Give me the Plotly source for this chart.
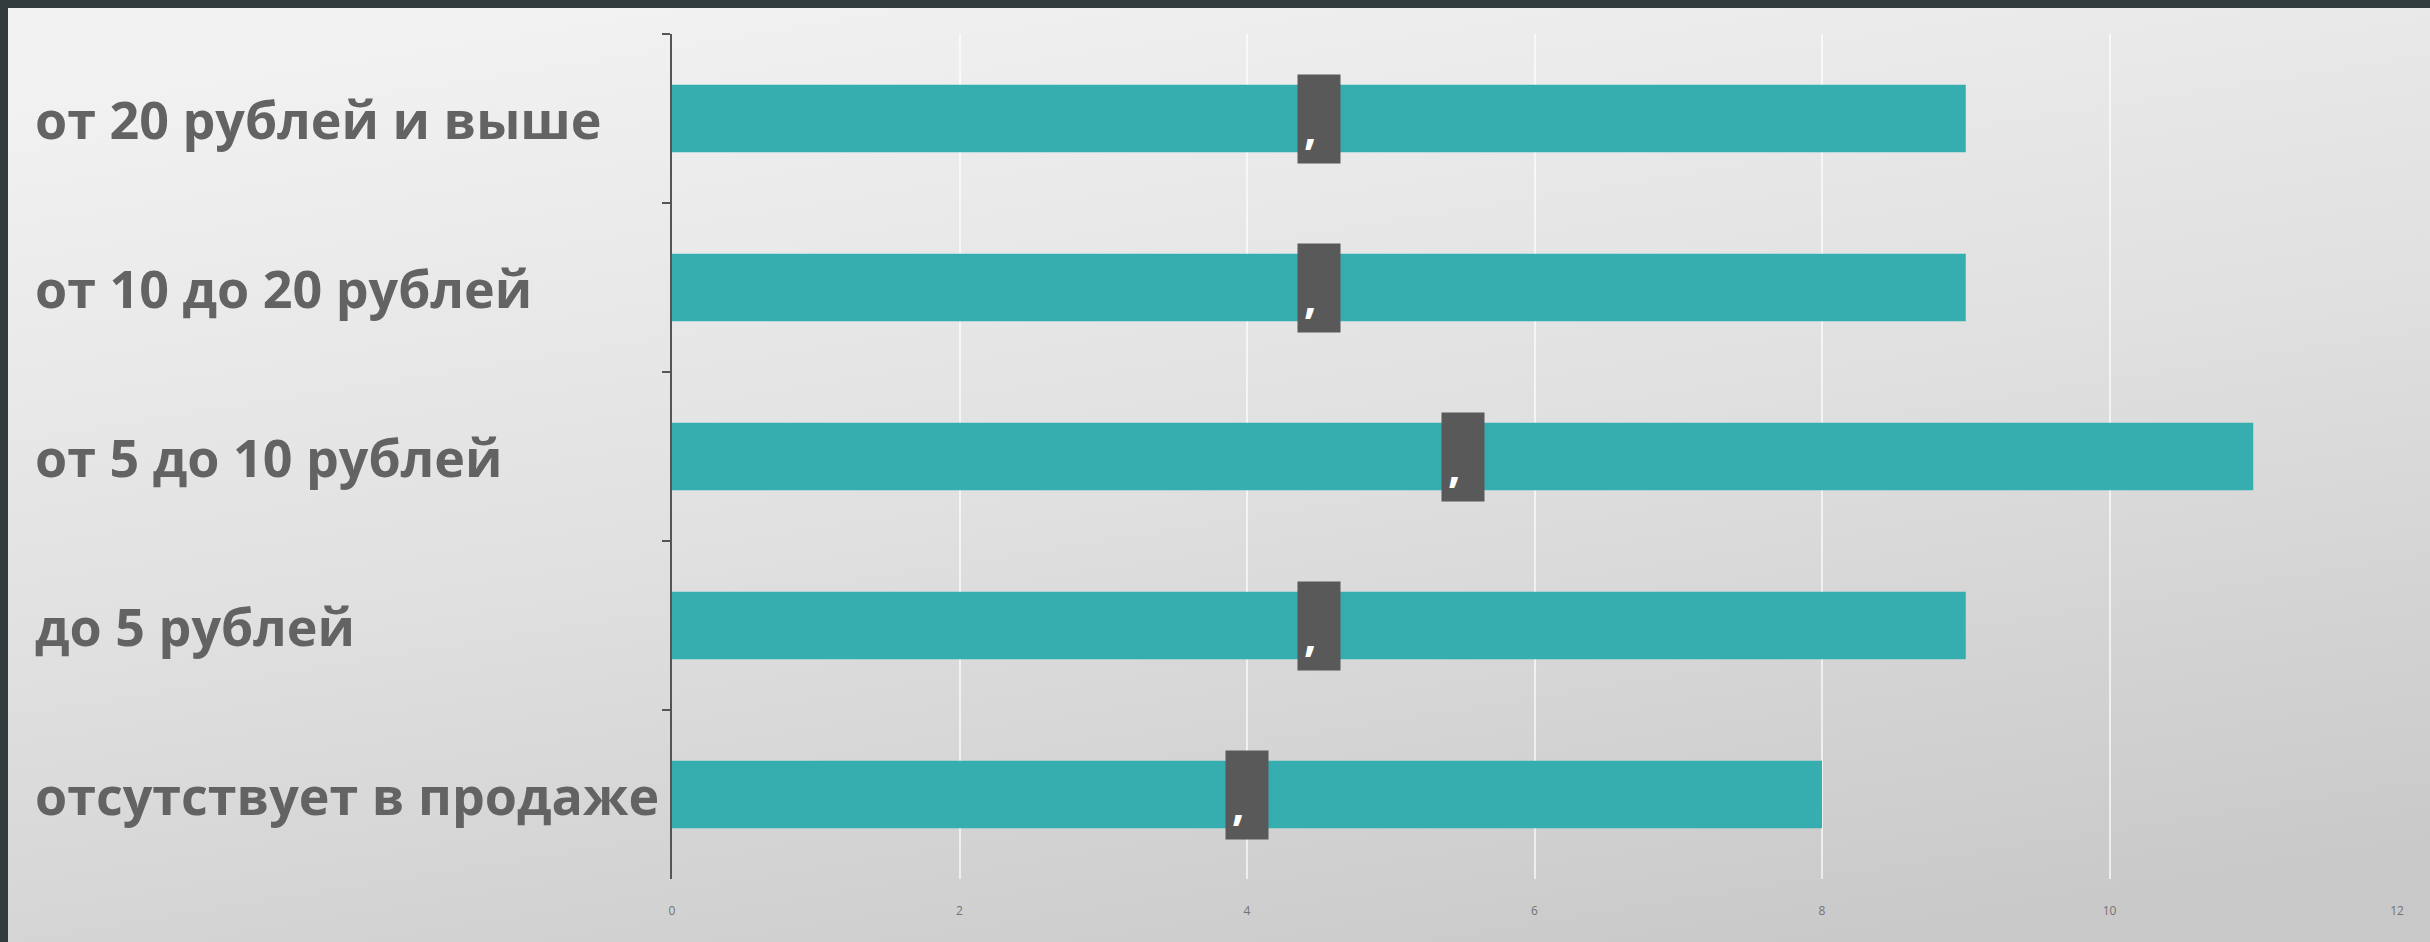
import base64
import plotly.graph_objects as go

# Data
categories = ["от 20 рублей и выше", "от 10 до 20 рублей", "от 5 до 10 рублей",
              "до 5 рублей", "отсутствует в продаже"]
values = [9, 9, 11, 9, 8]
label_texts = [",", ",", ",", ",", ","]
x_ticks = [0, 2, 4, 6, 8, 10, 12]

W, H = 2430, 942
ml, mr, mt, mb = 672, 33, 34, 63
pw, ph = W - ml - mr, H - mt - mb

def px_x(p):
    return (p - ml) / pw

def px_y(p):
    return (H - mb - p) / ph

svg = (
    '<svg xmlns="http://www.w3.org/2000/svg" width="100" height="100" preserveAspectRatio="none" viewBox="0 0 100 100">'
    '<defs><linearGradient id="g" x1="0.2" y1="0" x2="0.6" y2="1">'
    '<stop offset="0" stop-color="#f2f2f2"/><stop offset="0.5" stop-color="#e0e0e0"/>'
    '<stop offset="1" stop-color="#c9c9c9"/></linearGradient></defs>'
    '<rect width="100" height="100" fill="url(#g)"/></svg>'
)
src = "data:image/svg+xml;base64," + base64.b64encode(svg.encode()).decode()

fig = go.Figure()
fig.add_trace(go.Bar(
    x=values, y=categories, orientation="h",
    marker=dict(color="#36aeb0", line=dict(width=0)),
    width=0.4, hoverinfo="skip",
))

annotations = []
for c, v, t in zip(categories, values, label_texts):
    annotations.append(dict(
        x=v / 2, y=c, xref="x", yref="y", text="<b>" + t + "</b>",
        showarrow=False, bgcolor="#595959", width=30, height=76, borderpad=6,
        align="left", valign="bottom",
        font=dict(family="Open Sans", size=44, color="#ffffff"),
    ))
    annotations.append(dict(
        x=px_x(33), y=c, xref="paper", yref="y", text=c,
        xanchor="left", yanchor="middle", showarrow=False,
        font=dict(family="Open Sans", size=52, color="#636363", weight="bold"),
    ))

fig.update_layout(
    width=W, height=H,
    margin=dict(l=ml, r=mr, t=mt, b=mb, autoexpand=False),
    paper_bgcolor="#323c3c",
    plot_bgcolor="rgba(0,0,0,0)",
    showlegend=False,
    bargap=0.6,
    annotations=annotations,
    images=[dict(
        source=src, xref="paper", yref="paper",
        x=px_x(8), y=px_y(8), sizex=px_x(W + 60) - px_x(8), sizey=px_y(8) - px_y(H + 60),
        xanchor="left", yanchor="top", sizing="stretch", layer="below",
    )],
    xaxis=dict(
        range=[0, 12], tickvals=x_ticks, ticktext=[str(v) for v in x_ticks],
        showgrid=True, gridcolor="rgba(255,255,255,0.65)", gridwidth=2,
        zeroline=False, showline=False, ticks="", automargin=False,
        tickfont=dict(family="Open Sans", size=12, color="#737373"),
        ticklabelstandoff=23,
    ),
    yaxis=dict(
        categoryorder="array", categoryarray=categories, autorange="reversed",
        showticklabels=False, showgrid=False, zeroline=False, automargin=False,
        showline=True, linecolor="#555555", linewidth=2,
        ticks="outside", ticklen=8, tickwidth=2, tickcolor="#555555",
        tickson="boundaries",
    ),
)

fig.write_html(
    "out.html",
    config={"displayModeBar": False},
    post_script="document.body.style.margin='0';document.body.style.overflow='hidden';"
                "document.body.style.background='#323c3c';",
)
